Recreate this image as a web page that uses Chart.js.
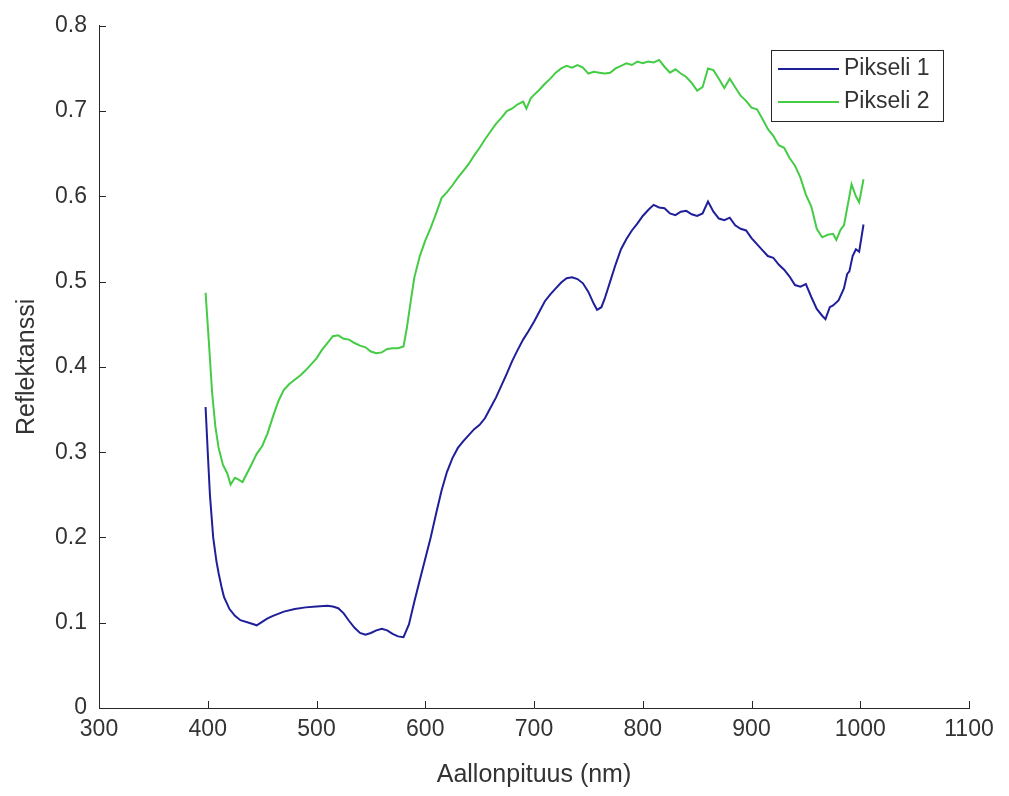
<!DOCTYPE html>
<html>
<head>
<meta charset="utf-8">
<script src="https://cdn.jsdelivr.net/npm/chart.js@4"></script>
<style>
  html, body { margin: 0; padding: 0; background: #fff; }
  #wrap { width: 1009px; height: 796px; }
</style>
</head>
<body>
<div id="wrap"><canvas id="chart" width="1009" height="796"></canvas></div>
<script>
// wavelength (nm) and reflectance
const wl1 = [398, 400, 402, 405, 408, 410, 413, 415, 420, 425, 430, 440, 445, 450, 455, 460, 470, 480, 490, 500, 510, 515, 520, 525,
  530, 535, 540, 545, 550, 555, 560, 565, 570, 575, 580, 585, 590, 595, 600, 605, 610, 615, 620, 625,
  630, 635, 640, 645, 650, 655, 660, 665, 670, 675, 680, 685, 690, 695, 700, 705, 710, 715, 720, 725,
  730, 735, 740, 745, 750, 755, 758, 762, 765, 770, 775, 780, 785, 790, 795, 800, 805, 810, 815, 820,
  825, 830, 835, 840, 845, 850, 855, 860, 865, 870, 875, 880, 885, 890, 895, 900, 905, 910, 915, 920,
  925, 930, 935, 940, 945, 950, 955, 960, 965, 968, 972, 975, 980, 985, 988, 990, 993, 996, 999, 1003];
const pikseli1 = [0.353, 0.30, 0.25, 0.20, 0.172, 0.158, 0.140, 0.130, 0.116, 0.108, 0.103, 0.099, 0.097, 0.101, 0.105, 0.108, 0.113, 0.116, 0.118, 0.119, 0.120, 0.119, 0.117, 0.111,
  0.102, 0.094, 0.088, 0.086, 0.088, 0.091, 0.093, 0.091, 0.087, 0.084, 0.083, 0.098, 0.125, 0.150, 0.175, 0.200, 0.228, 0.255, 0.277, 0.293,
  0.305, 0.313, 0.320, 0.327, 0.332, 0.340, 0.352, 0.364, 0.378, 0.392, 0.407, 0.420, 0.432, 0.442, 0.453, 0.465, 0.477, 0.485, 0.492, 0.499,
  0.504, 0.505, 0.503, 0.498, 0.488, 0.474, 0.467, 0.470, 0.480, 0.500, 0.520, 0.538, 0.550, 0.560, 0.568, 0.577, 0.584, 0.590, 0.587, 0.586,
  0.580, 0.578, 0.582, 0.583, 0.579, 0.577, 0.580, 0.594, 0.582, 0.574, 0.572, 0.575, 0.566, 0.562, 0.560, 0.551, 0.544, 0.537, 0.530, 0.528,
  0.520, 0.514, 0.506, 0.496, 0.494, 0.497, 0.482, 0.468, 0.460, 0.456, 0.470, 0.472, 0.478, 0.492, 0.509, 0.512, 0.530, 0.538, 0.535, 0.567];

const wl2 = [398, 401, 404, 407, 410, 414, 418, 421, 425, 428, 432, 436, 440, 445, 450, 455, 460, 465, 470, 475,
  480, 485, 490, 495, 500, 505, 510, 515, 520, 525, 530, 535, 540, 545, 550, 555, 560, 565, 570, 575,
  580, 583, 587, 590, 595, 600, 605, 610, 615, 620, 625, 630, 635, 640, 645, 650, 655, 660, 665, 670,
  675, 680, 685, 690, 693, 697, 700, 705, 710, 715, 720, 725, 730, 735, 740, 745, 750, 755, 760, 765,
  770, 775, 780, 785, 790, 795, 800, 805, 810, 815, 820, 825, 830, 835, 840, 845, 850, 855, 860, 865,
  870, 875, 880, 885, 890, 895, 900, 905, 910, 915, 920, 925, 930, 935, 940, 945, 950, 955, 960, 965,
  970, 975, 978, 982, 985, 990, 992, 996, 999, 1003];
const pikseli2 = [0.487, 0.43, 0.37, 0.33, 0.305, 0.285, 0.275, 0.262, 0.270, 0.268, 0.265, 0.275, 0.285, 0.298, 0.307, 0.322, 0.342, 0.360, 0.373, 0.380,
  0.385, 0.390, 0.396, 0.403, 0.410, 0.420, 0.428, 0.436, 0.437, 0.433, 0.432, 0.428, 0.425, 0.423, 0.418, 0.416, 0.417, 0.421, 0.422, 0.422,
  0.424, 0.445, 0.480, 0.505, 0.530, 0.548, 0.563, 0.580, 0.598, 0.605, 0.613, 0.622, 0.630, 0.638, 0.648, 0.657, 0.667, 0.676, 0.685, 0.692,
  0.700, 0.703, 0.708, 0.711, 0.703, 0.715, 0.719, 0.725, 0.732, 0.738, 0.745, 0.750, 0.753, 0.751, 0.754, 0.751, 0.744, 0.746, 0.745, 0.744,
  0.745, 0.750, 0.753, 0.756, 0.754, 0.758, 0.756, 0.758, 0.757, 0.760, 0.752, 0.745, 0.749, 0.744, 0.740, 0.733, 0.724, 0.728, 0.750, 0.748,
  0.738, 0.727, 0.738, 0.728, 0.718, 0.712, 0.704, 0.702, 0.691, 0.679, 0.671, 0.660, 0.657, 0.645, 0.636, 0.622, 0.602, 0.588, 0.562, 0.552,
  0.555, 0.556, 0.549, 0.561, 0.566, 0.600, 0.614, 0.600, 0.593, 0.620];

const xTicks = [300, 400, 500, 600, 700, 800, 900, 1000, 1100];
const yTicks = [0, 0.1, 0.2, 0.3, 0.4, 0.5, 0.6, 0.7, 0.8];
const seriesNames = ['Pikseli 1', 'Pikseli 2'];
const seriesColors = ['#1f1f9a', '#44cc44'];

const FONT = '"Liberation Sans", Arial, Helvetica, sans-serif';
const TXT = '#333333';

// MATLAB style inward tick marks
const innerTicks = {
  id: 'innerTicks',
  afterDraw(chart) {
    const { ctx, scales: { x, y } } = chart;
    ctx.save();
    ctx.strokeStyle = '#262626';
    ctx.lineWidth = 1;
    ctx.beginPath();
    x.ticks.forEach(t => {
      const px = Math.round(x.getPixelForValue(t.value)) + 0.5;
      ctx.moveTo(px, y.bottom);
      ctx.lineTo(px, y.bottom - 7);
    });
    y.ticks.forEach(t => {
      const py = Math.round(y.getPixelForValue(t.value)) + 0.5;
      ctx.moveTo(x.left, py);
      ctx.lineTo(x.left + 7, py);
    });
    ctx.stroke();
    ctx.restore();
  }
};

// boxed legend inside the axes, top right
const boxLegend = {
  id: 'boxLegend',
  afterDraw(chart) {
    const { ctx } = chart;
    const bx = 771, by = 50, bw = 172, bh = 71;
    ctx.save();
    ctx.fillStyle = '#fff';
    ctx.fillRect(bx, by, bw, bh);
    ctx.strokeStyle = '#262626';
    ctx.lineWidth = 1;
    ctx.strokeRect(bx + 0.5, by + 0.5, bw, bh);
    ctx.font = '23px ' + FONT;
    ctx.textBaseline = 'middle';
    chart.data.datasets.forEach((ds, i) => {
      const ly = by + 19 + i * 33;
      ctx.strokeStyle = ds.borderColor;
      ctx.lineWidth = 2;
      ctx.beginPath();
      ctx.moveTo(bx + 7, ly);
      ctx.lineTo(bx + 68, ly);
      ctx.stroke();
      ctx.fillStyle = TXT;
      ctx.fillText(ds.label, bx + 73, ly);
    });
    ctx.restore();
  }
};

const toPoints = (xs, ys) => xs.map((v, i) => ({ x: v, y: ys[i] }));

new Chart(document.getElementById('chart'), {
  type: 'line',
  data: {
    datasets: [
      { label: seriesNames[0], data: toPoints(wl1, pikseli1), borderColor: seriesColors[0], borderWidth: 2, pointRadius: 0, tension: 0, fill: false },
      { label: seriesNames[1], data: toPoints(wl2, pikseli2), borderColor: seriesColors[1], borderWidth: 2, pointRadius: 0, tension: 0, fill: false }
    ]
  },
  options: {
    responsive: false,
    animation: false,
    layout: { padding: { left: 0, top: 22, right: 40, bottom: 0 } },
    plugins: { legend: { display: false }, tooltip: { enabled: false } },
    scales: {
      x: {
        type: 'linear',
        min: 300, max: 1100,
        afterBuildTicks: s => { s.ticks = xTicks.map(v => ({ value: v })); },
        afterFit: s => { s.height = 88; },
        grid: { display: false, drawTicks: false },
        border: { display: true, color: '#262626', width: 1 },
        ticks: { padding: 8, color: TXT, font: { family: FONT, size: 23 }, maxRotation: 0, callback: v => String(v) },
        title: { display: true, text: 'Aallonpituus (nm)', color: TXT, font: { family: FONT, size: 25 }, padding: { top: 0, bottom: 6 } }
      },
      y: {
        type: 'linear',
        min: 0, max: 0.8,
        afterBuildTicks: s => { s.ticks = yTicks.map(v => ({ value: v })); },
        afterFit: s => { s.width = 99; },
        grid: { display: false, drawTicks: false },
        border: { display: true, color: '#262626', width: 1 },
        ticks: { padding: 12, color: TXT, font: { family: FONT, size: 23 }, callback: v => (v === 0 ? '0' : v.toFixed(1)) },
        title: { display: true, text: 'Reflektanssi', color: TXT, font: { family: FONT, size: 25 }, padding: { top: 12, bottom: 0 } }
      }
    }
  },
  plugins: [innerTicks, boxLegend]
});
</script>
</body>
</html>
